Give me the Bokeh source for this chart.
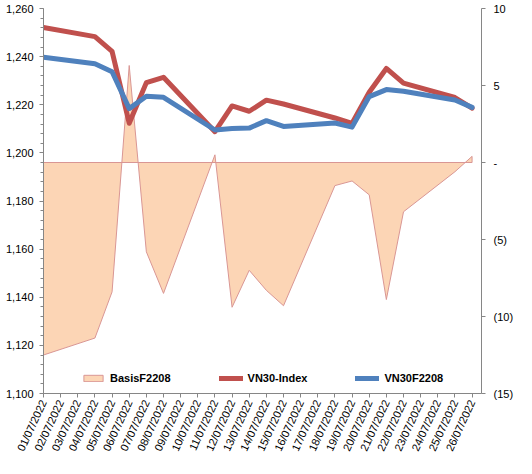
import math
from bokeh.plotting import figure
from bokeh.models import Range1d, LinearAxis, FixedTicker, SingleIntervalTicker, NumeralTickFormatter
from bokeh.embed import file_html
from bokeh.resources import INLINE

# ---- data ----
calendar_labels = [
    "01/07/2022", "02/07/2022", "03/07/2022", "04/07/2022", "05/07/2022",
    "06/07/2022", "07/07/2022", "08/07/2022", "09/07/2022", "10/07/2022",
    "11/07/2022", "12/07/2022", "13/07/2022", "14/07/2022", "15/07/2022",
    "16/07/2022", "17/07/2022", "18/07/2022", "19/07/2022", "20/07/2022",
    "21/07/2022", "22/07/2022", "23/07/2022", "24/07/2022", "25/07/2022",
    "26/07/2022",
]
trade_dates = [
    "01/07/2022", "04/07/2022", "05/07/2022", "06/07/2022", "07/07/2022",
    "08/07/2022", "11/07/2022", "12/07/2022", "13/07/2022", "14/07/2022",
    "15/07/2022", "18/07/2022", "19/07/2022", "20/07/2022", "21/07/2022",
    "22/07/2022", "25/07/2022", "26/07/2022",
]
vn30_index = [1252.1, 1248.3, 1242.2, 1212.3, 1229.2, 1231.4, 1208.8, 1219.5, 1217.3,
              1221.9, 1220.3, 1214.5, 1212.3, 1225.2, 1235.1, 1229.0, 1223.0, 1218.6]
vn30f2208 = [1239.7, 1237.0, 1233.7, 1218.4, 1223.5, 1223.1, 1209.5, 1210.1, 1210.3,
             1213.4, 1211.0, 1212.4, 1210.7, 1223.4, 1226.3, 1225.6, 1222.0, 1218.9]
basis_f2208 = [-12.5, -11.4, -8.4, 6.3, -5.8, -8.5, 0.5, -9.4, -7.0,
               -8.3, -9.3, -1.5, -1.2, -2.1, -8.9, -3.2, -0.6, 0.4]
right_tick_labels = {10: "10", 5: "5", 0: "-", -5: "(5)", -10: "(10)", -15: "(15)"}

# ---- styling ----
FONT = "Liberation Sans"
AXIS_COLOR = "#868686"
RED = "#C0504D"
BLUE = "#4F81BD"
AREA_FILL = "#FCD5B5"
AREA_LINE = "#D99694"

x = [calendar_labels.index(d) for d in trade_dates]

p = figure(width=516, height=458,
           x_range=Range1d(0, len(calendar_labels) - 1 + 0.55),
           y_range=Range1d(1100, 1260),
           output_backend="svg", toolbar_location=None,
           min_border_left=43, min_border_right=34,
           min_border_top=8, min_border_bottom=61)
p.extra_y_ranges = {"basis": Range1d(-15, 10)}
p.background_fill_color = "white"
p.border_fill_color = "white"
p.outline_line_color = None
p.xgrid.visible = False
p.ygrid.visible = False

# area (basis) on right axis
px = [x[0]] + x + [x[-1]]
py = [0] + basis_f2208 + [0]
p.patch(px, py, y_range_name="basis", fill_color=AREA_FILL, line_color=AREA_LINE,
        line_width=1, legend_label="BasisF2208")

p.line(x, vn30_index, line_color=RED, line_width=5, line_join="round", line_cap="round",
       legend_label="VN30-Index")
p.line(x, vn30f2208, line_color=BLUE, line_width=5, line_join="round", line_cap="round",
       legend_label="VN30F2208")

# x axis
xa = p.xaxis[0]
xa.ticker = FixedTicker(ticks=list(range(len(calendar_labels))))
xa.major_label_overrides = {i: s for i, s in enumerate(calendar_labels)}
xa.major_label_orientation = math.radians(65)
xa.major_tick_out = 4
xa.major_tick_in = 0
xa.minor_tick_out = 0
xa.minor_tick_in = 0
xa.axis_line_color = AXIS_COLOR
xa.major_tick_line_color = AXIS_COLOR
xa.major_label_text_font = FONT
xa.major_label_text_font_size = "11px"
xa.major_label_text_color = "black"
xa.major_label_standoff = 3

# left axis
ya = p.yaxis[0]
ya.ticker = SingleIntervalTicker(interval=20, num_minor_ticks=5)
ya.formatter = NumeralTickFormatter(format="0,0")
ya.major_tick_out = 4
ya.major_tick_in = 0
ya.minor_tick_out = 3
ya.minor_tick_in = 0
ya.axis_line_color = AXIS_COLOR
ya.major_tick_line_color = AXIS_COLOR
ya.minor_tick_line_color = AXIS_COLOR
ya.major_label_text_font = FONT
ya.major_label_text_font_size = "11px"
ya.major_label_text_color = "black"
ya.major_label_standoff = 6

# right axis
ra = LinearAxis(y_range_name="basis")
ra.ticker = FixedTicker(ticks=sorted(right_tick_labels.keys()))
ra.major_label_overrides = right_tick_labels
ra.major_tick_out = 4
ra.major_tick_in = 0
ra.minor_tick_out = 0
ra.minor_tick_in = 0
ra.axis_line_color = AXIS_COLOR
ra.major_tick_line_color = AXIS_COLOR
ra.major_label_text_font = FONT
ra.major_label_text_font_size = "11px"
ra.major_label_text_color = "black"
ra.major_label_standoff = 8
p.add_layout(ra, "right")

# legend
lg = p.legend[0]
lg.orientation = "horizontal"
lg.location = (38, 9)
lg.border_line_color = None
lg.background_fill_alpha = 0
lg.label_text_font = FONT
lg.label_text_font_style = "bold"
lg.label_text_font_size = "11px"
lg.label_text_color = "black"
lg.glyph_width = 24
lg.glyph_height = 8
lg.label_height = 12
lg.label_standoff = 5
lg.spacing = 48
lg.padding = 0
lg.margin = 0

open("out.html", "w").write(file_html(p, INLINE))
